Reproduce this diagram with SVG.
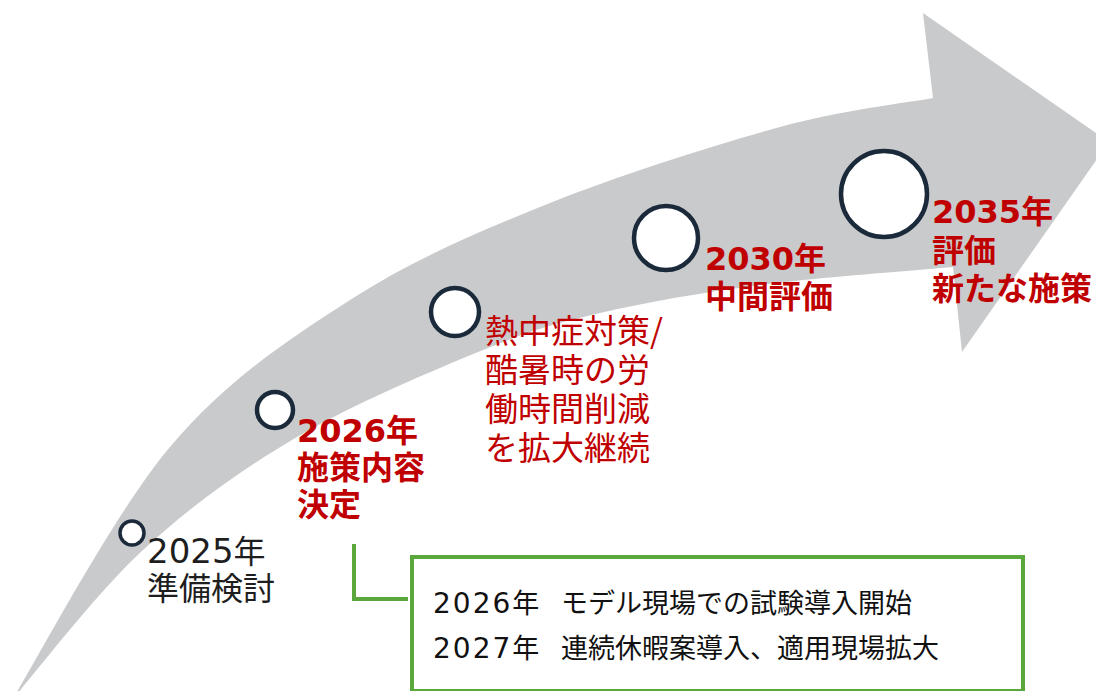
<svg xmlns="http://www.w3.org/2000/svg" width="1096" height="691" viewBox="0 0 1096 691">
<defs>
<style>
.arrow{fill:#c9cacc;stroke:none}
.dot{fill:#ffffff;stroke:#1b2a3b;stroke-width:4.5}
.lbl{font-family:"Noto Sans CJK JP","Noto Sans",sans-serif;font-size:32px}
.num{font-family:"DejaVu Sans","Noto Sans CJK JP",sans-serif}
.blk{fill:#1e1e1e}
.red{fill:#c00000}
.bold{font-weight:bold}
.box{fill:#ffffff;stroke:#5aa73c;stroke-width:4}
.conn{fill:none;stroke:#5aa73c;stroke-width:4}
.bt{font-family:"Noto Sans CJK JP","Noto Sans",sans-serif;font-size:27px;fill:#111111}
</style>
</defs>
<rect x="0" y="0" width="1096" height="691" fill="#ffffff"/>
<path id="arrow" class="arrow" d="M12 700 C38.3 657.8 113.7 513.7 170 447 C226.3 380.3 286.7 340.7 350 300 C413.3 259.3 478.3 231.8 550 203 C621.7 174.2 716.2 144.5 780 127 C843.8 109.5 907.5 102.8 933 98 L923 13 L1109 142 L962 352 L953 267 C920.8 270 818.8 277.3 760 285 C701.2 292.7 646.2 302.2 600 313 C553.8 323.8 533.5 329.3 483 350 C432.5 370.7 353.7 403.7 297 437 C240.3 470.3 190.5 506.2 143 550 C95.5 593.8 33.8 675 12 700 Z"/>
<g id="connectors">
<path class="conn" d="M354 544 V599 H408"/>
</g>
<g id="node-2025">
<circle class="dot" cx="132" cy="533" r="12" style="stroke-width:3.5"/>
<text class="lbl blk" x="147" y="563"><tspan class="num" style="font-size:34px">2025</tspan>年<tspan x="147" y="600">準備検討</tspan></text>
</g>
<g id="node-2026">
<circle class="dot" cx="275" cy="410" r="18"/>
<text class="lbl red bold" x="297" y="442"><tspan class="num">2026</tspan>年<tspan x="297" y="479">施策内容</tspan><tspan x="297" y="516">決定</tspan></text>
</g>
<g id="node-heat">
<circle class="dot" cx="455" cy="312" r="24"/>
<text class="lbl red" x="485" y="343" style="font-size:33px">熱中症対策/<tspan x="485" y="382">酷暑時の労</tspan><tspan x="485" y="421">働時間削減</tspan><tspan x="485" y="460">を拡大継続</tspan></text>
</g>
<g id="node-2030">
<circle class="dot" cx="666" cy="238" r="32"/>
<text class="lbl red bold" x="705" y="270"><tspan class="num">2030</tspan>年<tspan x="705" y="308">中間評価</tspan></text>
</g>
<g id="node-2035">
<circle class="dot" cx="884" cy="194" r="43"/>
<text class="lbl red bold" x="932" y="223"><tspan class="num">2035</tspan>年<tspan x="932" y="262">評価</tspan><tspan x="932" y="300">新たな施策</tspan></text>
</g>
<g id="node-detail">
<rect class="box" x="412" y="557" width="611" height="134"/>
<text class="bt" x="433" y="613"><tspan class="num" style="letter-spacing:2px;font-size:28px">2026</tspan>年<tspan x="561" y="613">モデル現場での試験導入開始</tspan></text>
<text class="bt" x="433" y="658"><tspan class="num" style="letter-spacing:2px;font-size:28px">2027</tspan>年<tspan x="561" y="658">連続休暇案導入、適用現場拡大</tspan></text>
</g>
</svg>
